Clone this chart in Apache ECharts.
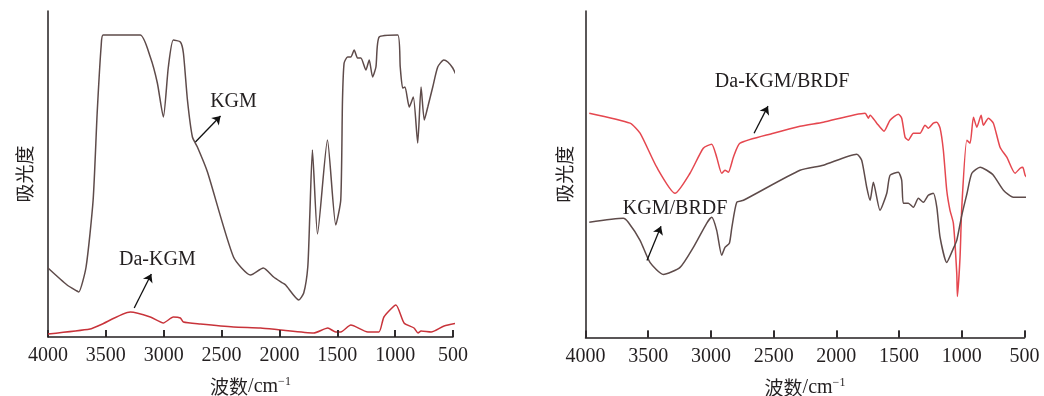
<!DOCTYPE html>
<html>
<head>
<meta charset="utf-8">
<script src="https://cdn.jsdelivr.net/npm/echarts@6/dist/echarts.min.js"></script>
<style>
  html, body { margin: 0; padding: 0; background: #fff; }
  #chart { width: 1044px; height: 396px; }
</style>
</head>
<body>
<div id="chart"></div>
<script>
// wavenumber (cm-1), absorbance (arbitrary units)
var kgm = [
  [4000, 69], [3835, 52], [3750, 46], [3734, 45], [3671, 70], [3610, 137], [3575, 224],
  [3540, 292], [3523, 302], [3203, 302], [3116, 280], [3055, 254], [3003, 220], [2960, 270],
  [2917, 297], [2856, 295], [2830, 284], [2795, 237], [2752, 200], [2709, 190],
  [2622, 165], [2397, 80], [2249, 62], [2139, 69], [2050, 60], [1972, 54], [1946, 52],
  [1833, 37], [1790, 44], [1755, 70], [1738, 120], [1715, 187], [1671, 103],
  [1585, 197], [1513, 112], [1470, 137], [1455, 237], [1441, 274], [1411, 280],
  [1383, 280], [1354, 287], [1325, 279], [1296, 279], [1253, 267], [1224, 277],
  [1195, 260], [1166, 270], [1138, 300], [978, 302], [956, 270], [935, 249],
  [915, 250], [878, 230], [843, 240], [805, 194], [776, 250], [748, 217], [718, 230],
  [675, 250], [632, 270], [580, 277], [545, 275], [502, 269], [473, 262], [453, 257]
]
var daKgm = [
  [4000, 3], [3636, 8], [3549, 12], [3289, 25], [3116, 20], [3003, 14], [2917, 20],
  [2856, 19], [2830, 15], [2683, 13], [2397, 10], [2163, 9], [1989, 7], [1704, 4],
  [1582, 9], [1513, 5], [1470, 5], [1383, 12], [1236, 5], [1140, 5], [1097, 20],
  [993, 32], [923, 14], [837, 9], [802, 4], [776, 6], [689, 5], [577, 11], [456, 14]
]
var kgmBrdf = [
  [3970, 115], [3699, 119], [3659, 115], [3565, 97], [3486, 75], [3380, 63],
  [3246, 70], [3140, 90], [3034, 114], [2994, 120], [2954, 107], [2914, 82],
  [2888, 90], [2853, 94], [2833, 110], [2794, 135], [2741, 137], [2290, 167],
  [2104, 172], [1837, 183], [1798, 177], [1758, 150], [1731, 137], [1705, 155],
  [1652, 127], [1598, 144], [1572, 162], [1506, 165], [1479, 157], [1466, 134],
  [1426, 134], [1386, 130], [1346, 139], [1306, 135], [1267, 142], [1227, 144],
  [1199, 130], [1173, 100], [1120, 75], [1067, 89], [1040, 97], [1000, 122],
  [960, 143], [920, 164], [854, 170], [801, 167], [748, 162], [668, 147],
  [589, 140], [509, 140], [477, 140]
]
var daKgmBrdf = [
  [3970, 224], [3645, 214], [3565, 204], [3432, 170], [3286, 144], [3167, 164],
  [3061, 189], [2994, 193], [2954, 180], [2914, 164], [2888, 167], [2861, 165],
  [2821, 180], [2768, 194], [2502, 204], [2290, 211], [2104, 215], [1771, 224],
  [1745, 219], [1731, 222], [1678, 214], [1620, 206], [1572, 217], [1506, 223],
  [1479, 219], [1452, 200], [1426, 197], [1386, 204], [1333, 204], [1293, 212],
  [1267, 209], [1227, 214], [1199, 215], [1173, 209], [1147, 187], [1120, 147],
  [1094, 127], [1067, 114], [1040, 64], [1035, 41], [1014, 80], [1000, 130],
  [960, 197], [934, 194], [907, 220], [880, 210], [846, 222], [828, 212],
  [788, 219], [748, 214], [695, 190], [641, 180], [575, 164], [535, 169],
  [514, 170], [495, 162], [482, 160]
]
// x tick values (the 4000 tick sits on the y axis)
var tickValues = [3500, 3000, 2500, 2000, 1500, 1000, 500]
// annotation label, text position, arrow tail, arrow head
var notes = [
  { name: 'KGM', text: [2397, 235], from: [2726, 195], to: [2509, 221] },
  { name: 'Da-KGM', text: [3055, 77], from: [3255, 29], to: [3107, 63] },
  { name: 'Da-KGM/BRDF', text: [2433, 255], from: [2656, 204], to: [2545, 231] },
  { name: 'KGM/BRDF', text: [3286, 129], from: [3510, 77], to: [3398, 111] }
]

var serif = '"Liberation Serif", "Times New Roman", serif'
var cjk = '"Noto Sans CJK SC", sans-serif'
var ink = '#231f20'
var grayLine = '#5e4b4a'

function xAxisFor(idx) {
  return {
    gridIndex: idx,
    type: 'value',
    inverse: true,
    min: 500,
    max: 4000,
    interval: 500,
    name: '{a|波数}{b|/cm}{c|−1}',
    nameLocation: 'middle',
    nameGap: 39,
    nameTextStyle: {
      rich: {
        a: { fontFamily: cjk, fontSize: 19, color: ink },
        b: { fontFamily: serif, fontSize: 20, color: ink },
        c: { fontFamily: serif, fontSize: 12, color: ink, verticalAlign: 'top', padding: [0, 0, 10, 0] }
      }
    },
    axisLine: { show: true, onZero: false, lineStyle: { color: ink, width: 1.5 } },
    axisTick: { show: true, inside: true, length: 7, lineStyle: { color: ink, width: 1.5 } },
    axisLabel: {
      show: true,
      color: ink,
      fontFamily: serif,
      fontSize: 20,
      margin: 9,
      formatter: function (v) { return String(v) }
    },
    splitLine: { show: false }
  }
}
function yAxisFor(idx, gap) {
  return {
    gridIndex: idx,
    type: 'value',
    min: 0,
    max: 326,
    name: '吸光度',
    nameLocation: 'middle',
    nameRotate: 90,
    nameGap: gap,
    nameTextStyle: { fontFamily: cjk, fontSize: 19, color: ink },
    axisLine: { show: true, lineStyle: { color: ink, width: 1.5 } },
    axisTick: { show: false },
    axisLabel: { show: false },
    splitLine: { show: false }
  }
}
function noteMarks(n) {
  return {
    markLine: {
      silent: true,
      symbol: ['none', 'arrow'],
      symbolSize: 8,
      label: { show: false },
      lineStyle: { color: '#111', width: 1.3, type: 'solid' },
      data: [[{ coord: n.from }, { coord: n.to }]]
    },
    markPoint: {
      silent: true,
      symbol: 'circle',
      symbolSize: 0,
      label: {
        show: true,
        position: 'inside',
        formatter: n.name,
        color: ink,
        fontFamily: serif,
        fontSize: 20
      },
      data: [{ coord: n.text }]
    }
  }
}
function lineSeries(name, idx, data, color, note) {
  return Object.assign({
    name: name,
    type: 'line',
    xAxisIndex: idx,
    yAxisIndex: idx,
    data: data,
    showSymbol: false,
    smooth: 0.2,
    clip: false,
    lineStyle: { color: color, width: 1.5 },
    itemStyle: { color: color }
  }, noteMarks(note))
}
// short inward tick marks on the x axis
function tickSeries(idx) {
  return {
    type: 'line',
    xAxisIndex: idx,
    yAxisIndex: idx,
    data: [],
    silent: true,
    markLine: {
      silent: true,
      symbol: ['none', 'none'],
      label: { show: false },
      lineStyle: { color: ink, width: 1.5, type: 'solid' },
      data: tickValues.map(function (v) {
        return [{ coord: [v, 0] }, { coord: [v, 7] }]
      })
    }
  }
}

var chart = echarts.init(document.getElementById('chart'), null, { renderer: 'canvas' })
var option = {
  animation: false,
  backgroundColor: '#fff',
  grid: [
    { left: 48, top: 11, width: 405, height: 326, outerBoundsMode: 'none' },
    { left: 585.5, top: 11, width: 439, height: 326.5, outerBoundsMode: 'none' }
  ],
  xAxis: [xAxisFor(0), xAxisFor(1)],
  yAxis: [yAxisFor(0, 14), yAxisFor(1, 11)],
  series: [
    lineSeries('KGM', 0, kgm, grayLine, notes[0]),
    lineSeries('Da-KGM', 0, daKgm, '#c8333a', notes[1]),
    lineSeries('Da-KGM/BRDF', 1, daKgmBrdf, '#e5474f', notes[2]),
    lineSeries('KGM/BRDF', 1, kgmBrdf, grayLine, notes[3]),
    tickSeries(0),
    tickSeries(1)
  ]
}
chart.setOption(option)
</script>
</body>
</html>
